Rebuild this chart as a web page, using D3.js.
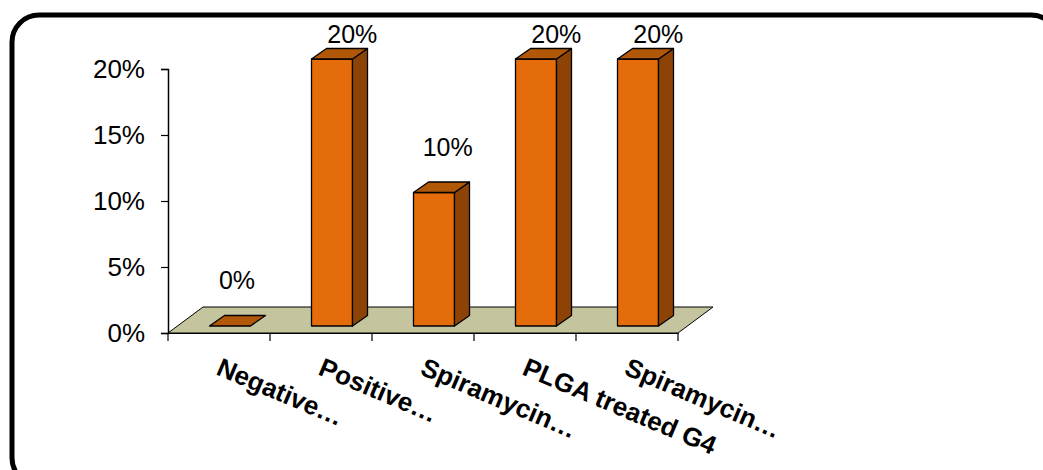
<!DOCTYPE html>
<html>
<head>
<meta charset="utf-8">
<script src="https://cdn.jsdelivr.net/npm/d3@7"></script>
<style>
  html, body { margin: 0; padding: 0; background: #fff; }
  svg { display: block; }
</style>
</head>
<body>
<svg id="chart" width="1043" height="470"></svg>
<script>
const categories = ["Negative…", "Positive…", "Spiramycin…", "PLGA treated G4", "Spiramycin…"];
const values = [0.00, 0.20, 0.10, 0.20, 0.20];
const valueLabels = ["0%", "20%", "10%", "20%", "20%"];
const yTicks = [0, 0.05, 0.10, 0.15, 0.20];

const svg = d3.select("#chart");

// frame
svg.append("rect")
  .attr("x", 12).attr("y", 15)
  .attr("width", 1046).attr("height", 470)
  .attr("rx", 27).attr("ry", 27)
  .attr("fill", "none").attr("stroke", "#000").attr("stroke-width", 5);

const x = d3.scaleBand().domain(d3.range(categories.length)).range([168, 678]).padding(0);
const y = d3.scaleLinear().domain([0, 0.20]).range([333, 69]);
const yBar = d3.scaleLinear().domain([0, 0.20]).range([326, 59]);

const depthX = 35, depthY = -26;
const fmt = d3.format(".0%");
const FONT = "'Liberation Sans', Arial, sans-serif";

// floor
const fl = [[168, 333], [678, 333], [678 + depthX, 333 + depthY], [168 + depthX, 333 + depthY]];
svg.append("polygon")
  .attr("points", fl.map(p => p.join(",")).join(" "))
  .attr("fill", "#C4C49F").attr("stroke", "#000").attr("stroke-width", 1);

// y axis
const yAxis = d3.axisLeft(y).tickValues(yTicks).tickFormat(fmt).tickSizeOuter(0).tickSize(7).tickPadding(16);
const gy = svg.append("g").attr("transform", "translate(168,0)").call(yAxis);
gy.select(".domain").attr("stroke", "#000").attr("stroke-width", 1.5);
gy.selectAll(".tick line").attr("stroke", "#000").attr("stroke-width", 1.2);
gy.selectAll(".tick text")
  .attr("font-family", FONT)
  .attr("font-size", 26).attr("fill", "#000");

// x axis
const xAxis = d3.axisBottom(x).tickSize(0).tickFormat("");
const gx = svg.append("g").attr("transform", "translate(0,333)").call(xAxis);
gx.select(".domain").attr("stroke", "#000").attr("stroke-width", 1.2);
const bounds = d3.range(categories.length + 1).map(i => i < categories.length ? x(i) : x(i - 1) + x.bandwidth());
gx.selectAll("line.bnd").data(bounds).enter().append("line")
  .attr("class", "bnd")
  .attr("x1", d => d).attr("x2", d => d)
  .attr("y1", 0).attr("y2", 8)
  .attr("stroke", "#000").attr("stroke-width", 1.2);

// bars
const bw = 41, bdx = 15, bdy = -10.5, offs = 41.5;
const cFront = "#E46C0A", cSide = "#8E4306", cTop = "#B05708";
const bars = svg.append("g");
values.forEach((v, i) => {
  const x0 = x(i) + offs, x1 = x0 + bw;
  const yb = yBar(0), yt = yBar(v);
  const g = bars.append("g");
  if (v > 0) {
    g.append("polygon")
      .attr("points", [[x0, yb], [x1, yb], [x1, yt], [x0, yt]].map(p => p.join(",")).join(" "))
      .attr("fill", cFront).attr("stroke", "#000").attr("stroke-width", 1.3).attr("stroke-linejoin", "round");
    g.append("polygon")
      .attr("points", [[x1, yb], [x1 + bdx, yb + bdy], [x1 + bdx, yt + bdy], [x1, yt]].map(p => p.join(",")).join(" "))
      .attr("fill", cSide).attr("stroke", "#000").attr("stroke-width", 1.3).attr("stroke-linejoin", "round");
  }
  g.append("polygon")
    .attr("points", [[x0, yt], [x1, yt], [x1 + bdx, yt + bdy], [x0 + bdx, yt + bdy]].map(p => p.join(",")).join(" "))
    .attr("fill", cTop).attr("stroke", "#000").attr("stroke-width", 1.3).attr("stroke-linejoin", "round");

  const lx = (x0 + x1) / 2 + 7 + (yBar(0) - yBar(v)) * 0.05;
  const ly = Math.max(yBar(v) - 37, 43);
  svg.append("text")
    .attr("x", lx).attr("y", ly)
    .attr("text-anchor", "middle")
    .attr("font-family", FONT)
    .attr("font-size", 25).attr("fill", "#000")
    .text(valueLabels[i]);
});

// category labels
svg.append("g").selectAll("text").data(categories).enter().append("text")
  .attr("transform", (d, i) => `translate(${x(i) + x.bandwidth() / 2 - 4},374) rotate(23)`)
  .attr("font-family", FONT)
  .attr("font-weight", "bold")
  .attr("font-size", 26).attr("fill", "#000")
  .text(d => d);
</script>
</body>
</html>
